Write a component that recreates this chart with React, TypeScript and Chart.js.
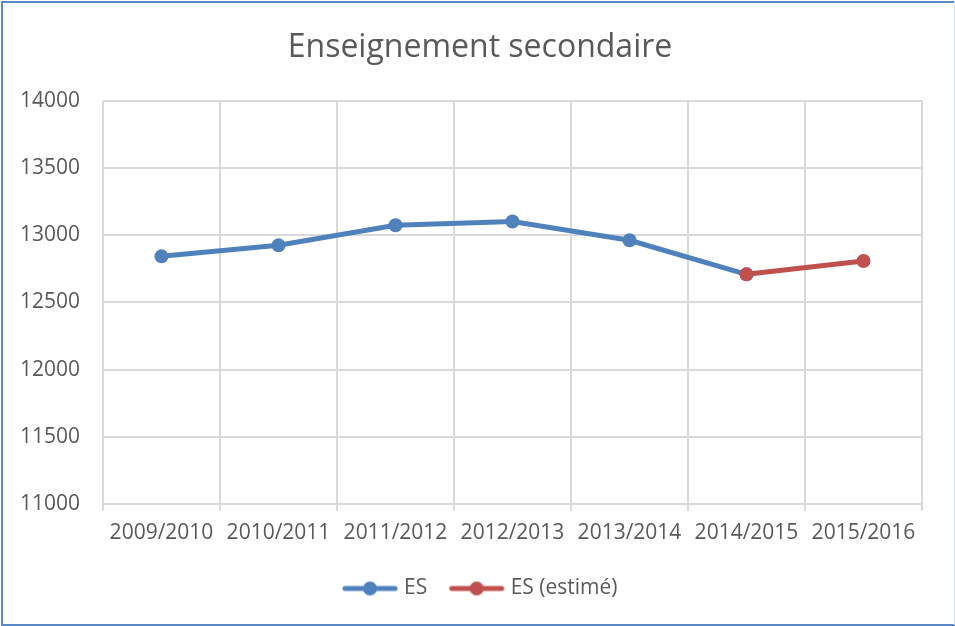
import React, { useEffect, useRef } from "react";
import { Chart, registerables } from "chart.js";

Chart.register(...registerables);

const chartTitle = "Enseignement secondaire";
const categories = [
  "2009/2010",
  "2010/2011",
  "2011/2012",
  "2012/2013",
  "2013/2014",
  "2014/2015",
  "2015/2016",
];
const seriesNames = ["ES", "ES (estimé)"];
const esValues = [12843, 12925, 13075, 13102, 12963, 12709, null];
const esEstimatedValues = [null, null, null, null, null, 12709, 12808];
const yTicks = [11000, 11500, 12000, 12500, 13000, 13500, 14000];

const BLUE = "#4f81bd";
const RED = "#c0504d";
const TEXT = "#595959";
const GRID = "#d9d9d9";
const FONT = "'Open Sans', sans-serif";

function makeSymbol(color: string): HTMLCanvasElement {
  const c = document.createElement("canvas");
  c.width = 70;
  c.height = 18;
  const ctx = c.getContext("2d")!;
  ctx.strokeStyle = color;
  ctx.lineWidth = 5;
  ctx.lineCap = "round";
  ctx.beginPath();
  ctx.moveTo(12, 9);
  ctx.lineTo(62, 9);
  ctx.stroke();
  ctx.fillStyle = color;
  ctx.beginPath();
  ctx.arc(37, 9, 7, 0, Math.PI * 2);
  ctx.fill();
  return c;
}

const borderPlugin = {
  id: "frameBorder",
  beforeDraw(chart: any) {
    const ctx = chart.ctx;
    ctx.save();
    ctx.fillStyle = "#ffffff";
    ctx.fillRect(0, 0, chart.width, chart.height);
    ctx.restore();
  },
  afterDraw(chart: any) {
    const ctx = chart.ctx;
    ctx.save();
    ctx.fillStyle = "#5a8ac6";
    ctx.fillRect(1, 1, 2, chart.height - 2);
    ctx.fillRect(1, 1, chart.width - 2, 2);
    ctx.fillRect(1, chart.height - 2, chart.width - 1, 2);
    ctx.fillStyle = "#e4e6f0";
    ctx.fillRect(chart.width - 1, 1, 1, chart.height - 2);
    ctx.restore();
  },
};

export default function App() {
  const ref = useRef<HTMLCanvasElement | null>(null);

  useEffect(() => {
    if (!ref.current) return;
    const symbols = [makeSymbol(BLUE), makeSymbol(RED)];
    const chart = new Chart(ref.current, {
      type: "line",
      data: {
        labels: categories,
        datasets: [
          {
            label: seriesNames[0],
            data: esValues,
            borderColor: BLUE,
            backgroundColor: BLUE,
            borderWidth: 5,
            pointRadius: 7,
            pointBorderWidth: 0,
            pointBackgroundColor: BLUE,
            spanGaps: false,
            order: 1,
          },
          {
            label: seriesNames[1],
            data: esEstimatedValues,
            borderColor: RED,
            backgroundColor: RED,
            borderWidth: 5,
            pointRadius: 7,
            pointBorderWidth: 0,
            pointBackgroundColor: RED,
            spanGaps: false,
            order: 0,
          },
        ],
      },
      options: {
        responsive: false,
        animation: false,
        layout: { padding: { left: 38, right: 33, top: 0, bottom: 17 } },
        plugins: {
          tooltip: { enabled: false },
          title: {
            display: true,
            text: chartTitle,
            color: TEXT,
            font: { family: FONT, size: 32, weight: "normal", lineHeight: 1.2 },
            padding: { top: 29, bottom: 33.6 },
          },
          legend: {
            display: true,
            position: "bottom",
            labels: {
              color: TEXT,
              font: { family: FONT, size: 21 },
              usePointStyle: true,
              pointStyleWidth: 51,
              padding: 22,
              generateLabels: () =>
                seriesNames.map((name, i) => ({
                  text: name,
                  fillStyle: i === 0 ? BLUE : RED,
                  strokeStyle: i === 0 ? BLUE : RED,
                  lineWidth: 0,
                  pointStyle: symbols[i],
                  hidden: false,
                  datasetIndex: i,
                  fontColor: TEXT,
                })),
            },
          },
        },
        scales: {
          x: {
            offset: true,
            grid: {
              offset: true,
              color: GRID,
              lineWidth: 2,
              tickLength: 7,
              drawTicks: true,
            },
            border: { color: GRID, width: 2 },
            ticks: {
              color: TEXT,
              font: { family: FONT, size: 21 },
              padding: 10,
              maxRotation: 0,
              autoSkip: false,
            },
          },
          y: {
            min: 11000,
            max: 14000,
            afterBuildTicks: (scale: any) => {
              scale.ticks = yTicks.map((v) => ({ value: v }));
            },
            afterFit: (scale: any) => {
              scale.width = 65;
              scale._computeLabelArea = () => undefined;
            },
            grid: { color: GRID, lineWidth: 2, drawTicks: false },
            border: { display: false },
            ticks: {
              color: TEXT,
              font: { family: FONT, size: 21 },
              padding: 23,
              callback: (v: any) => String(v),
            },
          },
        },
      },
      plugins: [borderPlugin],
    });
    return () => chart.destroy();
  }, []);

  return (
    <div style={{ position: "absolute", left: 0, top: 0, width: 955, height: 626 }}>
      <canvas ref={ref} width={955} height={626} style={{ display: "block", width: 955, height: 626 }} />
    </div>
  );
}
